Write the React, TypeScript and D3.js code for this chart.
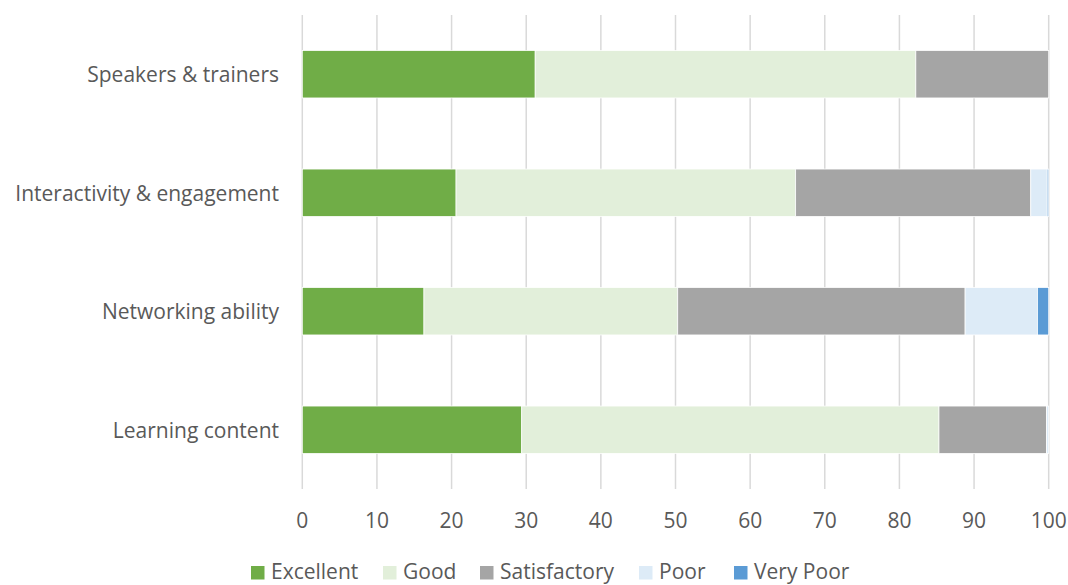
import React from "react";
import * as d3 from "d3";

const categories = ["Speakers & trainers", "Interactivity & engagement", "Networking ability", "Learning content"];
const seriesNames = ["Excellent", "Good", "Satisfactory", "Poor", "Very Poor"];
const seriesColors = ["#70AD47", "#E2EFDA", "#A5A5A5", "#DDEBF7", "#5B9BD5"];
const excellent = [31.2, 20.6, 16.3, 29.4];
const good = [51.0, 45.5, 34.0, 55.9];
const satisfactory = [17.8, 31.5, 38.5, 14.4];
const poor = [0, 2.2, 9.7, 0.3];
const veryPoor = [0, 0.2, 1.5, 0];
const xTicks = [0, 10, 20, 30, 40, 50, 60, 70, 80, 90, 100];

const W = 1068;
const H = 585;
const FONT = "'Open Sans', Lato, sans-serif";
const FS = 21;
const TEXT = "#595959";

export default function App() {
  const left = 302.3;
  const right = 1048.7;
  const top = 15;
  const bottom = 489;
  const x = d3.scaleLinear().domain([0, 100]).range([left, right]);
  const y = d3.scaleBand().domain(categories).range([top, bottom]).paddingInner(0.6).paddingOuter(0.3);

  const seriesVals = [excellent, good, satisfactory, poor, veryPoor];
  const rows = categories.map((c, i) => {
    const o: any = { cat: c };
    seriesNames.forEach((s, j) => (o[s] = seriesVals[j][i]));
    return o;
  });
  const stacked = d3.stack().keys(seriesNames)(rows);

  const legendX = [251, 383, 480, 639, 734];

  return (
    <svg width={W} height={H} style={{ position: "absolute", left: 0, top: 0, background: "#fff" }}>
      {xTicks.map((t) => (
        <line key={t} x1={x(t)} x2={x(t)} y1={top} y2={bottom} stroke="#D9D9D9" strokeWidth={1.5} />
      ))}
      {stacked.map((layer, j) => (
        <g key={seriesNames[j]} fill={seriesColors[j]}>
          {layer.map((d, i) => {
            const w = x(d[1]) - x(d[0]);
            if (w <= 0) return null;
            return (
              <rect
                key={i}
                x={x(d[0])}
                y={y(categories[i])}
                width={w}
                height={y.bandwidth()}
                stroke="#fff"
                strokeWidth={0.75}
              />
            );
          })}
        </g>
      ))}
      {categories.map((c) => (
        <text
          key={c}
          x={279}
          y={(y(c) as number) + y.bandwidth() / 2}
          textAnchor="end"
          dominantBaseline="central"
          fontFamily={FONT}
          fontSize={FS}
          fill={TEXT}
        >
          {c}
        </text>
      ))}
      {xTicks.map((t) => (
        <text
          key={"t" + t}
          x={x(t)}
          y={520}
          textAnchor="middle"
          dominantBaseline="central"
          fontFamily={FONT}
          fontSize={FS}
          fill={TEXT}
        >
          {t}
        </text>
      ))}
      {seriesNames.map((s, j) => (
        <g key={"l" + s}>
          <rect x={legendX[j]} y={566} width={13.5} height={13.5} fill={seriesColors[j]} />
          <text x={legendX[j] + 20} y={579} fontFamily={FONT} fontSize={FS} fill={TEXT}>
            {s}
          </text>
        </g>
      ))}
    </svg>
  );
}
